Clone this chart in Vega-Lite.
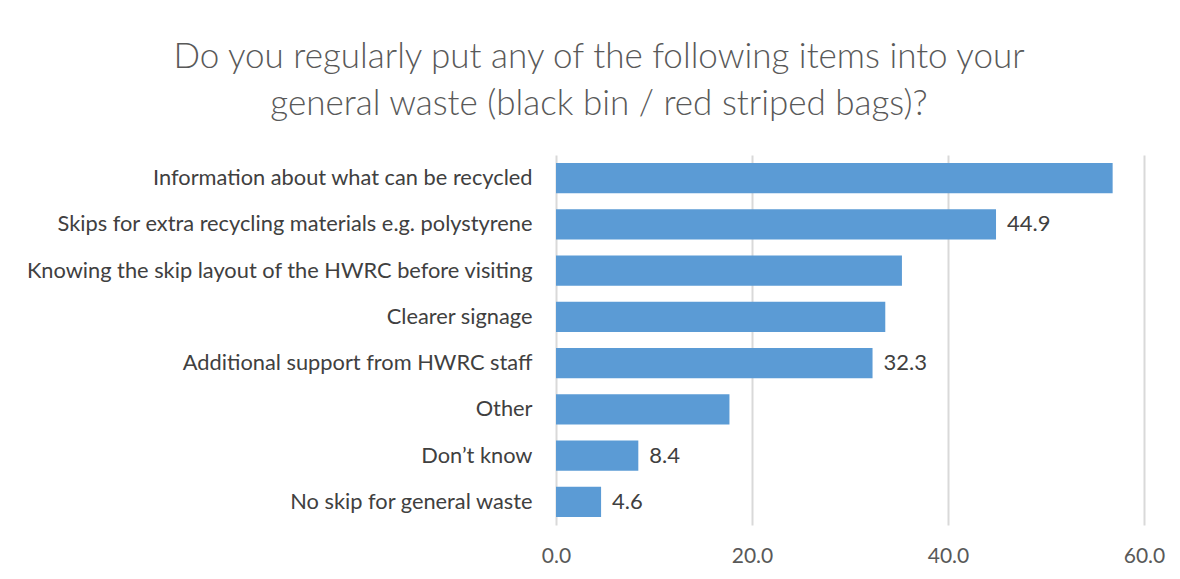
{
  "$schema": "https://vega.github.io/schema/vega-lite/v6.json",
  "width": 588,
  "height": 370,
  "autosize": {"type": "none"},
  "padding": {"left": 556, "top": 155, "right": 36, "bottom": 54},
  "background": "white",
  "title": {
    "text": ["Do you regularly put any of the following items into your", "general waste (black bin / red striped bags)?"],
    "font": "Lato",
    "fontSize": 35,
    "fontWeight": 300,
    "color": "#595959",
    "anchor": "middle",
    "dx": -251,
    "offset": 33,
    "lineHeight": 47
  },
  "config": {"view": {"stroke": null}},
  "data": {
    "values": [
      {"item": "Information about what can be recycled", "value": 56.8, "label": ""},
      {"item": "Skips for extra recycling materials e.g. polystyrene", "value": 44.9, "label": "44.9"},
      {"item": "Knowing the skip layout of the HWRC before visiting", "value": 35.3, "label": ""},
      {"item": "Clearer signage", "value": 33.6, "label": ""},
      {"item": "Additional support from HWRC staff", "value": 32.3, "label": "32.3"},
      {"item": "Other", "value": 17.7, "label": ""},
      {"item": "Don’t know", "value": 8.4, "label": "8.4"},
      {"item": "No skip for general waste", "value": 4.6, "label": "4.6"}
    ]
  },
  "encoding": {
    "y": {
      "field": "item",
      "type": "nominal",
      "sort": null,
      "title": null,
      "scale": {"paddingInner": 0.35, "paddingOuter": 0.175},
      "axis": {
        "domain": false,
        "ticks": false,
        "grid": false,
        "labelFont": "Lato",
        "labelFontSize": 21.8,
        "labelColor": "#404040",
        "labelPadding": 24,
        "labelLimit": 600
      }
    },
    "x": {
      "field": "value",
      "type": "quantitative",
      "title": null,
      "scale": {"domain": [0, 60]},
      "axis": {
        "values": [0, 20, 40, 60],
        "format": ".1f",
        "domain": false,
        "ticks": false,
        "grid": true,
        "gridColor": "#D9D9D9",
        "gridWidth": 2,
        "labelFlush": false,
        "labelFont": "Lato",
        "labelFontSize": 21,
        "labelColor": "#595959",
        "labelPadding": 20
      }
    }
  },
  "layer": [
    {"mark": {"type": "bar", "color": "#5B9BD5"}},
    {
      "mark": {"type": "text", "align": "left", "baseline": "middle", "dx": 11, "font": "Lato", "fontSize": 22, "color": "#404040"},
      "encoding": {"text": {"field": "label"}}
    }
  ]
}
